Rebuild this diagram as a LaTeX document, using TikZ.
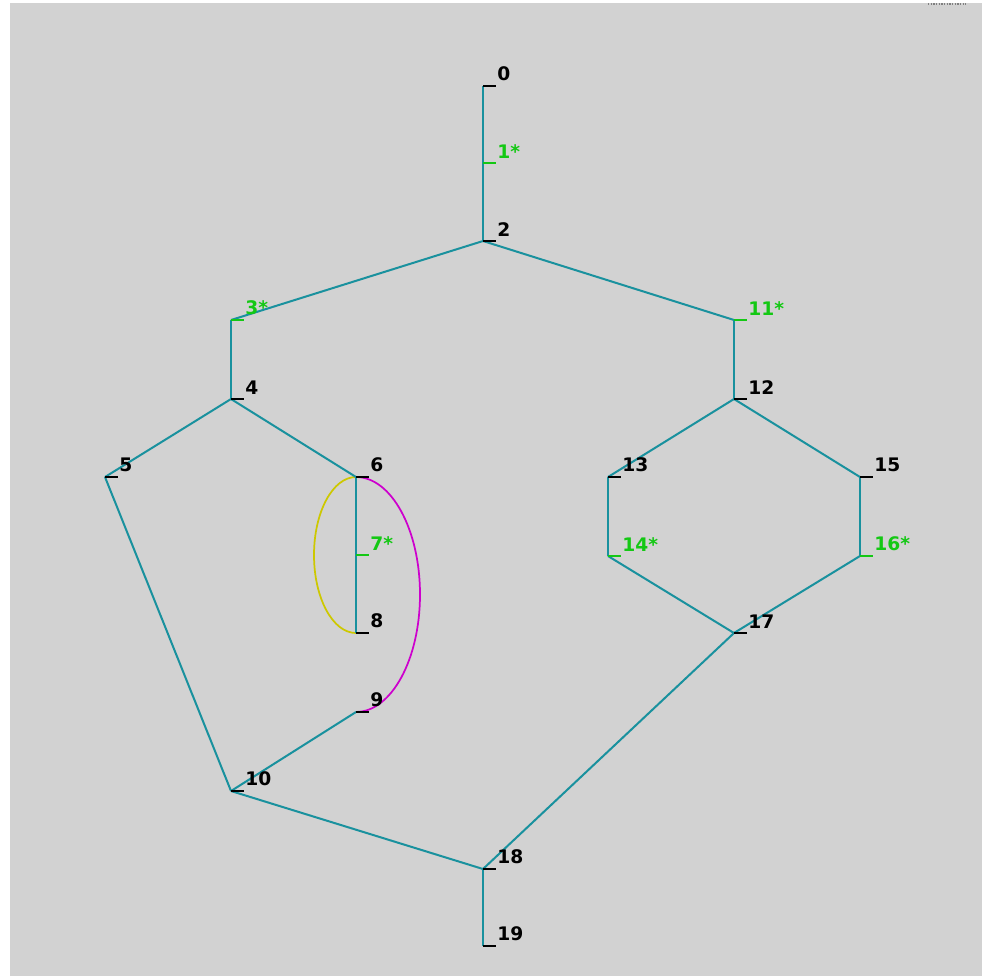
\documentclass[tikz,border=0pt]{standalone}
\usepackage{fontspec}
\setmainfont{DejaVu Sans}
\usepackage{tikz}
\usetikzlibrary{calc}
\definecolor{bggray}{RGB}{210,210,210}
\definecolor{teal}{RGB}{25,145,158}
\definecolor{stargreen}{RGB}{20,200,20}
\definecolor{lemon}{RGB}{205,200,0}
\definecolor{mag}{RGB}{205,0,205}
\tikzset{
    link/.style={draw=teal, line width=1.5pt},
    tick/.style={draw=black, line width=1.5pt},
    startick/.style={draw=stargreen, line width=1.5pt},
    lbl/.style={anchor=south west, inner sep=0pt, xshift=10.5pt, yshift=3.5pt,
        font=\fontsize{14}{14}\selectfont\bfseries, text=black},
    starlbl/.style={lbl, text=stargreen}
}

\begin{document}
\begin{tikzpicture}[x=0.75pt, y=-0.75pt]
    % canvas
    \fill[white] (0,0) rectangle (982,976);
    \fill[bggray] (10,3) rectangle (982,976);
    \draw[gray, densely dotted, line width=1pt] (928,4) -- (966,4);

    % vertices
    \foreach \n/\x/\y in {0/483/86, 1/483/163, 2/483/241, 3/231/320, 4/231/399,
        5/105/477, 6/356/477, 7/356/555, 8/356/633, 9/356/712, 10/231/791,
        11/734/320, 12/734/399, 13/608/477, 14/608/556, 15/860/477,
        16/860/556, 17/734/633, 18/483/869, 19/483/946}
        \coordinate (n\n) at (\x,\y);

    % loops round 6--8 and 6--9
    \draw[lemon, line width=1.3pt] (n6) arc[start angle=90, end angle=270, x radius=31.5pt, y radius=58.5pt];
    \draw[mag, line width=1.3pt] (n6) arc[start angle=90, end angle=-90, x radius=48pt, y radius=88.1pt];

    % edges
    \foreach \a/\b in {0/1, 1/2, 2/3, 3/4, 4/5, 4/6, 6/7, 7/8, 5/10, 9/10, 10/18,
        2/11, 11/12, 12/13, 12/15, 13/14, 14/17, 15/16, 16/17, 17/18, 18/19}
        \draw[link] (n\a) -- (n\b);

    % ticks and numbers
    \foreach \n in {0,2,4,5,6,8,9,10,12,13,15,17,18,19} {
        \draw[tick] (n\n) -- ++(13,0);
        \node[lbl] (l\n) at (n\n) {\n};
    }
    \foreach \n in {1,3,7,11,14,16} {
        \draw[startick] (n\n) -- ++(13,0);
        \node[starlbl] (l\n) at (n\n) {\n*};
    }
\end{tikzpicture}
\end{document}
